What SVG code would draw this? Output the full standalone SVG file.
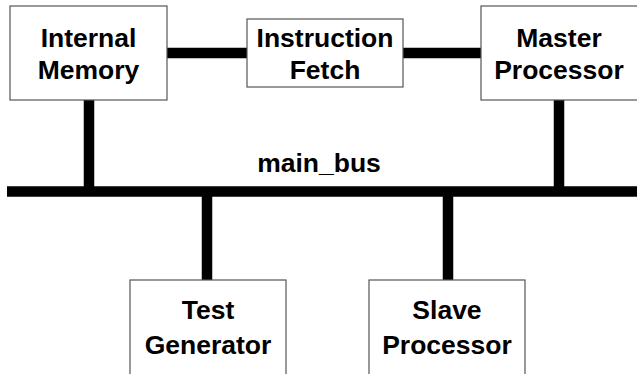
<svg xmlns="http://www.w3.org/2000/svg" width="637" height="374" viewBox="0 0 637 374">
<style>
.box{fill:#fff;stroke:#555;stroke-width:1.2}
.t{font-family:"Liberation Sans",Arial,sans-serif;font-weight:bold;font-size:26.5px;fill:#000;text-anchor:middle}
.c{stroke:#000;stroke-width:10.5;fill:none}
</style>
<rect width="637" height="374" fill="#fff"/>
<g id="connectors">
<line class="c" x1="167" y1="53" x2="247" y2="53"/>
<line class="c" x1="403" y1="53" x2="481" y2="53"/>
<line class="c" x1="89" y1="100" x2="89" y2="191"/>
<line class="c" x1="559" y1="100" x2="559" y2="191"/>
<line class="c" x1="207" y1="191" x2="207" y2="280"/>
<line class="c" x1="448" y1="191" x2="448" y2="280"/>
<line id="main_bus" class="c" x1="7" y1="191.5" x2="637" y2="191.5"/>
<text class="t" x="319" y="172">main_bus</text>
</g>
<g id="internal_memory">
<rect class="box" x="10" y="6" width="157" height="94"/>
<text class="t" x="88.5" y="47">Internal</text>
<text class="t" x="88.5" y="79">Memory</text>
</g>
<g id="instruction_fetch">
<rect class="box" x="247" y="19" width="156" height="68"/>
<text class="t" x="325" y="47">Instruction</text>
<text class="t" x="325" y="79">Fetch</text>
</g>
<g id="master_processor">
<rect class="box" x="481" y="6" width="160" height="94"/>
<text class="t" x="559" y="47">Master</text>
<text class="t" x="559" y="79">Processor</text>
</g>
<g id="test_generator">
<rect class="box" x="130" y="280" width="156" height="100"/>
<text class="t" x="208" y="319">Test</text>
<text class="t" x="208" y="354">Generator</text>
</g>
<g id="slave_processor">
<rect class="box" x="369" y="280" width="156" height="100"/>
<text class="t" x="447" y="319">Slave</text>
<text class="t" x="447" y="354">Processor</text>
</g>
</svg>
